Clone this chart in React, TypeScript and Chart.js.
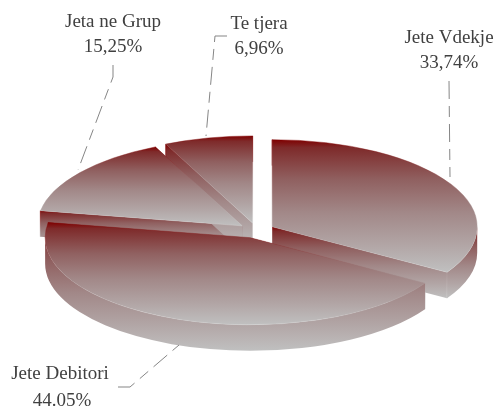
import React, { useEffect, useRef } from "react";
import { Chart, registerables } from "chart.js";

Chart.register(...registerables);

const categories = ["Jete Vdekje", "Jete Debitori", "Jeta ne Grup", "Te tjera"];
const values = [33.74, 44.05, 15.25, 6.96];
const valueLabels = ["33,74%", "44.05%", "15,25%", "6,96%"];

const W = 499;
const H = 406;
const CX = 256.5;
const CY = 230.5;
const RADIUS = 205;
const SQUASH = 0.425;
const DEPTH = 26;
const EXPLODE = 18;
const DRAW_ORDER = [3, 2, 0, 1];

const LABEL_POS = [
  { x: 449, y: 38, y2: 63 },
  { x: 60, y: 374, y2: 401, x2: 62 },
  { x: 113, y: 22, y2: 47 },
  { x: 259, y: 24, y2: 49 },
];
const LEADERS = [
  [[449, 81], [450, 177]],
  [[118, 387], [130, 387], [179, 345]],
  [[113, 65], [113, 77], [78, 170]],
  [[227, 36], [215, 36], [206, 136]],
];

function sliceGeom(i: number) {
  const total = values.reduce((a, b) => a + b, 0);
  let acc = 0;
  for (let j = 0; j < i; j++) acc += values[j];
  const start = -Math.PI / 2 + (acc / total) * 2 * Math.PI;
  const end = start + (values[i] / total) * 2 * Math.PI;
  const mid = (start + end) / 2;
  return {
    start,
    end,
    mid,
    ax: CX + Math.cos(mid) * EXPLODE,
    ay: CY + Math.sin(mid) * EXPLODE,
  };
}

// y-extent of a slice, in unsquashed chart coordinates
function sliceYRange(i: number) {
  const g = sliceGeom(i);
  const ys = [g.ay, g.ay + Math.sin(g.start) * RADIUS, g.ay + Math.sin(g.end) * RADIUS];
  for (const a of [-Math.PI / 2, Math.PI / 2, (3 * Math.PI) / 2]) {
    if (a >= g.start && a <= g.end) ys.push(g.ay + Math.sin(a) * RADIUS);
  }
  return [Math.min(...ys), Math.max(...ys)];
}

const toScreenY = (y: number) => CY + (y - CY) * SQUASH;

function fillGradient(ctx: CanvasRenderingContext2D, y0: number, y1: number) {
  const g = ctx.createLinearGradient(0, y0, 0, y1);
  g.addColorStop(0, "#7f0000");
  g.addColorStop(0.06, "#7e2a2a");
  g.addColorStop(0.3, "#906060");
  g.addColorStop(0.55, "#a28888");
  g.addColorStop(0.8, "#b2a6a6");
  g.addColorStop(1, "#c0c0c0");
  return g;
}

function edgeGradient(ctx: CanvasRenderingContext2D, y0: number, y1: number) {
  const g = ctx.createLinearGradient(0, y0, 0, y1);
  g.addColorStop(0, "#7f0000");
  g.addColorStop(0.5, "#a08888");
  g.addColorStop(1, "#d4d4d4");
  return g;
}

const scenePlugin = {
  id: "scene",
  afterDatasetUpdate(chart: any) {
    const arcs = chart.getDatasetMeta(0).data;
    arcs.forEach((arc: any, i: number) => {
      const g = sliceGeom(i);
      arc.x = g.ax;
      arc.y = g.ay;
    });
  },
  beforeDatasetsDraw(chart: any) {
    const ctx: CanvasRenderingContext2D = chart.ctx;
    const arcs = chart.getDatasetMeta(0).data;

    for (const i of DRAW_ORDER) {
      const arc = arcs[i];
      const { x, y, startAngle, endAngle, outerRadius } = arc;
      const sy = toScreenY(y);
      const rx = outerRadius;
      const ry = outerRadius * SQUASH;
      const sx0 = x + Math.cos(startAngle) * rx;
      const sy0 = sy + Math.sin(startAngle) * ry;
      const sx1 = x + Math.cos(endAngle) * rx;
      const sy1 = sy + Math.sin(endAngle) * ry;

      const drawQuad = (px: number, py: number) => {
        const top = Math.min(sy, py);
        const bottom = Math.max(sy, py) + DEPTH;
        ctx.beginPath();
        ctx.moveTo(x, sy);
        ctx.lineTo(px, py);
        ctx.lineTo(px, py + DEPTH);
        ctx.lineTo(x, sy + DEPTH);
        ctx.closePath();
        ctx.fillStyle = fillGradient(ctx, top, bottom);
        ctx.fill();
        ctx.beginPath();
        ctx.moveTo(px, py);
        ctx.lineTo(px, py + DEPTH);
        ctx.strokeStyle = edgeGradient(ctx, top, bottom);
        ctx.lineWidth = 0.8;
        ctx.stroke();
      };
      drawQuad(sx0, sy0);
      drawQuad(sx1, sy1);

      const t1 = Math.max(startAngle, 0);
      const t2 = Math.min(endAngle, Math.PI);
      if (t2 > t1) {
        const rangeTop = Math.min(sy + Math.sin(t1) * ry, sy + Math.sin(t2) * ry, sy);
        const bottom =
          (t1 <= Math.PI / 2 && t2 >= Math.PI / 2
            ? sy + ry
            : Math.max(sy + Math.sin(t1) * ry, sy + Math.sin(t2) * ry)) + DEPTH;
        // slices reaching past the horizontal use their full extent
        const top = endAngle > Math.PI ? sy + Math.sin(endAngle) * ry : rangeTop;
        ctx.beginPath();
        ctx.ellipse(x, sy, rx, ry, 0, t1, t2);
        ctx.ellipse(x, sy + DEPTH, rx, ry, 0, t2, t1, true);
        ctx.closePath();
        ctx.fillStyle = fillGradient(ctx, top, bottom);
        ctx.fill();
      }

      ctx.save();
      ctx.translate(0, CY);
      ctx.scale(1, SQUASH);
      ctx.translate(0, -CY);
      arc.draw(ctx);
      ctx.restore();
    }

    // leader lines
    ctx.save();
    ctx.strokeStyle = "#858585";
    ctx.lineWidth = 1;
    ctx.setLineDash([18, 7, 11, 7]);
    for (const pts of LEADERS) {
      ctx.beginPath();
      pts.forEach(([px, py], k) => (k ? ctx.lineTo(px, py) : ctx.moveTo(px, py)));
      ctx.stroke();
    }
    ctx.restore();

    // labels
    ctx.save();
    ctx.fillStyle = "#404040";
    ctx.font = '19px "Liberation Serif"';
    ctx.textAlign = "center";
    ctx.textBaseline = "middle";
    categories.forEach((name, i) => {
      const p: any = LABEL_POS[i];
      ctx.fillText(name, p.x, p.y);
      ctx.fillText(valueLabels[i], p.x2 ?? p.x, p.y2);
    });
    ctx.restore();
    return false;
  },
};

export default function App() {
  const ref = useRef<HTMLCanvasElement | null>(null);
  useEffect(() => {
    if (!ref.current) return;
    const chart = new Chart(ref.current, {
      type: "pie",
      data: {
        labels: categories,
        datasets: [
          {
            data: values,
            clip: false,
            borderWidth: 0.6,
            backgroundColor: (c: any) => {
              if (c.dataIndex === undefined) return "#a08484";
              const [a, b] = sliceYRange(c.dataIndex);
              return fillGradient(c.chart.ctx, a, b);
            },
            borderColor: (c: any) => {
              if (c.dataIndex === undefined) return "#d4d4d4";
              const [a, b] = sliceYRange(c.dataIndex);
              return edgeGradient(c.chart.ctx, a, b);
            },
          } as any,
        ],
      },
      options: {
        animation: false,
        responsive: false,
        events: [],
        radius: RADIUS,
        layout: { padding: { left: 14, right: 0, top: 55, bottom: 0 } },
        plugins: { legend: { display: false }, tooltip: { enabled: false } },
      } as any,
      plugins: [scenePlugin as any],
    });
    return () => chart.destroy();
  }, []);
  return (
    <div style={{ position: "absolute", left: 0, top: 0, width: W, height: H, background: "#fff" }}>
      <canvas ref={ref} width={W} height={H} style={{ display: "block" }} />
    </div>
  );
}
